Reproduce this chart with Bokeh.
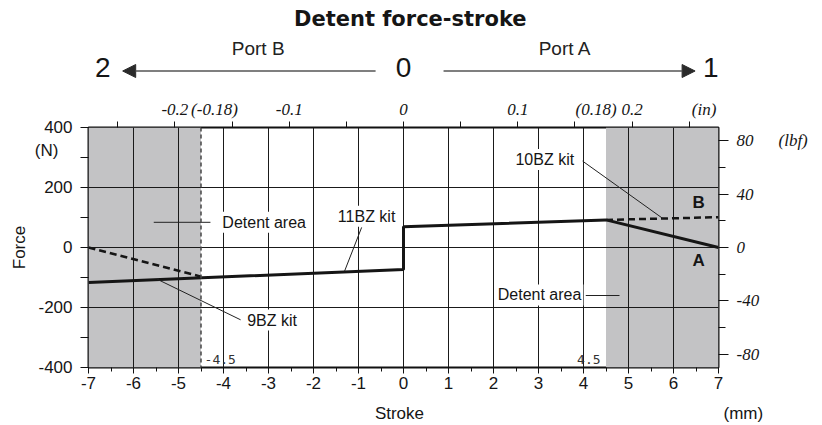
from bokeh.plotting import figure
from bokeh.layouts import column
from bokeh.models import (Range1d, LinearAxis, FixedTicker, Label, Arrow, NormalHead, Span)
from bokeh.embed import file_html
from bokeh.resources import INLINE

# ---------------- data ----------------
stroke_ticks = [-7, -6, -5, -4, -3, -2, -1, 0, 1, 2, 3, 4, 5, 6, 7]
stroke_minor = [-6.5, -5.5, -4.5, -3.5, -2.5, -1.5, -0.5, 0.5, 1.5, 2.5, 3.5, 4.5, 5.5, 6.5]
force_ticks = [-400, -200, 0, 200, 400]
force_tick_marks = [-400, -300, -200, -100, 0, 100, 200, 300, 400]
force_unit_pos = 322          # where "(N)" sits
lbf_ticks = [-80, -40, 0, 40, 80]
lbf_minor = [-60, -20, 20, 60]
inch_tick_marks = [-0.25, -0.2, -0.15, -0.1, -0.05, 0.0, 0.05, 0.1, 0.15, 0.2, 0.25]
inch_label_pos = [-0.2, -0.1654, -0.1, 0.0, 0.1, 0.1685, 0.2, 0.263]
inch_label_txt = ["-0.2", "(-0.18)", "-0.1", "0", "0.1", "(0.18)", "0.2", "(in)"]

detent_left = [-7, -4.5]
detent_right = [4.5, 7]

kit11_stroke = [-7, 0, 0, 4.5]
kit11_force = [-117, -73, 69, 92]
a_stroke = [4.5, 7]
a_force = [92, 0]
kit9_stroke = [-7, -4.5]
kit9_force = [0, -97]
kit10_stroke = [4.5, 7]
kit10_force = [92, 101]

N_PER_LBF = 4.44822
MM_PER_IN = 25.4

SANS = "Liberation Sans"
SERIF = "Liberation Serif"
INK = "#151515"

W = 822
BL, BR = 88, 104                       # left / right borders of the plot frame


def blank_fig(h):
    f = figure(width=W, height=h, output_backend="svg", toolbar_location=None,
               x_range=Range1d(-7, 7), y_range=Range1d(h, 0),
               x_axis_type=None, y_axis_type=None,
               min_border_left=BL, min_border_right=BR, min_border_top=0, min_border_bottom=0)
    f.outline_line_color = None
    f.grid.visible = False
    f.background_fill_color = "white"
    f.border_fill_color = "white"
    return f


def lab(fig, x, y, text, size="16px", font=SANS, style="normal", align="left",
        color=INK, bg=None):
    l = Label(x=x, y=y, text=text, text_font=font, text_font_size=size,
              text_font_style=style, text_align=align, text_baseline="middle",
              text_color=color)
    if bg is not None:
        l.background_fill_color = bg
        l.padding = 2
    fig.add_layout(l)
    return l


# ---------------- header (title, ports, arrows) ----------------
TOP_H = 96
top = blank_fig(TOP_H)
lab(top, 0.15, 18, "Detent force-stroke", size="21px", font="DejaVu Sans", style="bold", align="center")
lab(top, -3.23, 48, "Port B", size="19px", align="center", color="#222222")
lab(top, 3.59, 48, "Port A", size="19px", align="center", color="#222222")
lab(top, -6.68, 67, "2", size="28px", align="center")
lab(top, 0.0, 67, "0", size="28px", align="center")
lab(top, 6.83, 67, "1", size="28px", align="center")
for xs, xe in ((-0.62, -6.24), (0.89, 6.48)):
    top.add_layout(Arrow(end=NormalHead(size=13, fill_color="#2a2a2a", line_color="#2a2a2a"),
                         x_start=xs, y_start=70.5, x_end=xe, y_end=70.5,
                         line_color="#555555", line_width=1.5))

# ---------------- main plot ----------------
MAIN_H = 304
p = figure(width=W, height=MAIN_H, output_backend="svg", toolbar_location=None,
           x_range=Range1d(-7, 7), y_range=Range1d(-400, 400),
           min_border_left=BL, min_border_right=BR, min_border_top=30, min_border_bottom=33)
p.background_fill_color = "white"
p.border_fill_color = "white"
p.outline_line_color = "#111111"
p.outline_line_width = 2

p.extra_x_ranges = {"inch": Range1d(-7 / MM_PER_IN, 7 / MM_PER_IN)}
p.extra_y_ranges = {"lbf": Range1d(-400 / N_PER_LBF, 400 / N_PER_LBF)}

p.xgrid.ticker = FixedTicker(ticks=stroke_ticks)
p.ygrid.ticker = FixedTicker(ticks=force_ticks)
for g in (p.xgrid, p.ygrid):
    g.grid_line_color = "#1a1a1a"
    g.grid_line_width = 1

p.quad(left=[detent_left[0], detent_right[0]], right=[detent_left[1], detent_right[1]],
       bottom=[-400, -400], top=[400, 400], fill_color="#c3c3c5", line_color=None, level="image")
p.add_layout(Span(location=detent_left[1], dimension="height", line_color="#444444",
                  line_width=1.5, line_dash="4 3"))

xa = p.xaxis[0]
xa.ticker = FixedTicker(ticks=stroke_ticks, minor_ticks=stroke_minor)
xa.major_label_overrides = {t: str(t) for t in stroke_ticks}

ya = p.yaxis[0]
ya.ticker = FixedTicker(ticks=force_ticks + [force_unit_pos], minor_ticks=force_tick_marks)
ya.major_label_overrides = {**{t: str(t) for t in force_ticks},
                            force_unit_pos: "(N)\u00a0\u00a0\u00a0"}
ya.axis_label = "Force"

top_ax = LinearAxis(x_range_name="inch",
                    ticker=FixedTicker(ticks=inch_label_pos, minor_ticks=inch_tick_marks))
top_ax.major_label_overrides = dict(zip(inch_label_pos, inch_label_txt))
right_ax = LinearAxis(y_range_name="lbf", ticker=FixedTicker(ticks=lbf_ticks, minor_ticks=lbf_minor))
right_ax.major_label_overrides = {t: str(t) for t in lbf_ticks}
unit_ax = LinearAxis(y_range_name="lbf", ticker=FixedTicker(ticks=[lbf_ticks[-1]], minor_ticks=[]))
unit_ax.major_label_overrides = {lbf_ticks[-1]: "(lbf)"}
p.add_layout(top_ax, "above")
p.add_layout(right_ax, "right")
p.add_layout(unit_ax, "right")

for ax in (xa, ya, top_ax, right_ax, unit_ax):
    ax.axis_line_color = None
    ax.major_tick_in = 0
    ax.minor_tick_in = 0
    ax.major_tick_line_color = "#111111"
    ax.minor_tick_line_color = "#111111"
    ax.major_label_text_color = INK
    ax.major_label_text_font_size = "17px"

xa.major_tick_out = 6
xa.minor_tick_out = 4
xa.major_label_text_font = SANS
xa.major_label_standoff = 3

ya.major_tick_line_color = None
ya.major_tick_out = 0
ya.minor_tick_out = 8
ya.major_label_text_font = SANS
ya.major_label_standoff = 8
ya.axis_label_text_font = SANS
ya.axis_label_text_font_style = "normal"
ya.axis_label_text_font_size = "17px"
ya.axis_label_text_color = INK
ya.axis_label_standoff = 3

top_ax.major_tick_line_color = None
top_ax.major_tick_out = 0
top_ax.minor_tick_out = 6
top_ax.major_label_text_font = SERIF
top_ax.major_label_text_font_style = "italic"
top_ax.major_label_standoff = 3

right_ax.major_tick_out = 10
right_ax.minor_tick_out = 7
right_ax.major_label_text_font = SERIF
right_ax.major_label_text_font_style = "italic"
right_ax.major_label_standoff = 8

unit_ax.major_tick_line_color = None
unit_ax.major_tick_out = 0
unit_ax.minor_tick_out = 0
unit_ax.major_label_text_font = SERIF
unit_ax.major_label_text_font_style = "italic"
unit_ax.major_label_standoff = 16

p.line(kit11_stroke, kit11_force, line_color=INK, line_width=3)
p.line(a_stroke, a_force, line_color=INK, line_width=3)
p.line(kit9_stroke, kit9_force, line_color=INK, line_width=2.5, line_dash="7 4")
p.line(kit10_stroke, kit10_force, line_color=INK, line_width=2.5, line_dash="7 4")

p.segment(x0=[-5.55, 4.05, -0.93, 3.98, -5.47], y0=[84, -160, 67, 288, -106],
          x1=[-4.29, 4.8, -1.31, 5.76, -3.62], y1=[84, -160, -79, 97, -241],
          line_color="#222222", line_width=1)

lab(p, -4.07, 84, "Detent area", bg="white")
lab(p, 2.05, -158, "Detent area", bg="white")
lab(p, -0.82, 104, "11BZ kit", align="center", bg="white")
lab(p, 3.14, 293, "10BZ kit", align="center", bg="white")
lab(p, -2.92, -242, "9BZ kit", align="center", bg="white")
lab(p, 6.56, 151, "B", size="17px", style="bold", align="center")
lab(p, 6.56, -44, "A", size="17px", style="bold", align="center")
lab(p, -4.42, -372, "-4.5", size="13px", font="DejaVu Sans Mono", color="#333333")
lab(p, 4.38, -372, "4.5", size="13px", font="DejaVu Sans Mono", align="right", color="#333333")

# ---------------- footer (axis title and unit) ----------------
BOT_H = 25
bot = blank_fig(BOT_H)
lab(bot, -0.09, 13, "Stroke", size="17px", align="center")
mm_ax = LinearAxis(ticker=FixedTicker(ticks=[13], minor_ticks=[]))
mm_ax.major_label_overrides = {13: "(mm)"}
mm_ax.axis_line_color = None
mm_ax.major_tick_line_color = None
mm_ax.major_tick_in = 0
mm_ax.major_tick_out = 0
mm_ax.minor_tick_out = 0
mm_ax.major_label_standoff = 5
mm_ax.major_label_text_font = SANS
mm_ax.major_label_text_font_size = "17px"
mm_ax.major_label_text_color = INK
bot.add_layout(mm_ax, "right")

layout = column(top, p, bot, spacing=0)
open("out.html", "w").write(file_html(layout, INLINE))
